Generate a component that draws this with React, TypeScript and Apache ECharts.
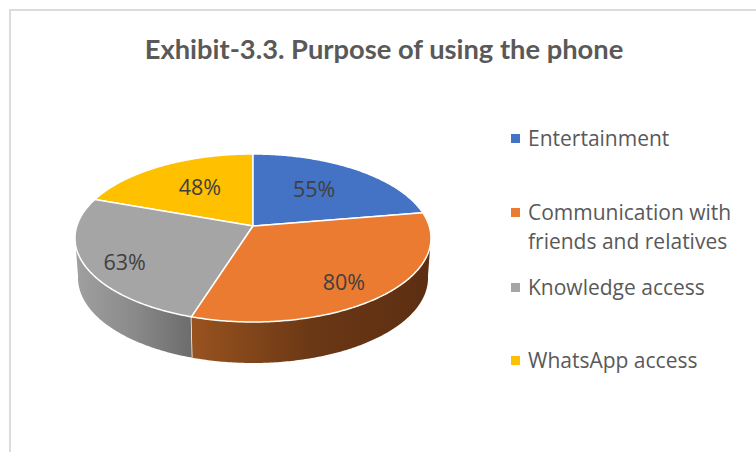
import React, { useEffect, useRef } from "react";
import * as echarts from "echarts";

const titleText = "Exhibit-3.3. Purpose of using the phone";
const categories = ["Entertainment", "Communication with\nfriends and relatives", "Knowledge access", "WhatsApp access"];
const values = [55, 80, 63, 48];
const topColors = ["#4472C4", "#EB7B30", "#A5A5A5", "#FFC000"];
const legendRows = [138, 212, 287, 360];
const labelRadius = [0.618, 0.778, 0.8, 0.614];
const labelAngleShift = [-3.3, 3.8, -4.6, 3.3];

const sideGradients: Record<number, [string, string, string]> = {
  1: ["#98531f", "#6b3815", "#5c2e12"],
  2: ["#a0a0a0", "#8a8a8a", "#6c6c6c"],
};

const CX = 253, CY = 238, RX = 178, RY = 84, APEX = 0.143;
const BOTTOM_CY = 278, BOTTOM_RX = 175, BOTTOM_RY = 85;
const total = values.reduce((a, b) => a + b, 0);

// perspective map of the unit disc onto the tilted top face
function disc(thetaDeg: number, r = 1) {
  const t = (thetaDeg * Math.PI) / 180;
  const u = r * Math.sin(t), v = r * Math.cos(t);
  const den = 1 + APEX * v;
  return [(u * Math.sqrt(1 - APEX * APEX)) / den, (v + APEX) / den];
}
function top(thetaDeg: number, r = 1) {
  const [u, v] = disc(thetaDeg, r);
  return [CX + RX * u, CY - RY * v];
}
function bottom(thetaDeg: number) {
  const [u, v] = disc(thetaDeg);
  return [CX + BOTTOM_RX * u, BOTTOM_CY - BOTTOM_RY * v];
}
function span(a: number, b: number) {
  const n = Math.max(2, Math.ceil((b - a) * 1.5));
  const out: number[] = [];
  for (let i = 0; i <= n; i++) out.push(a + ((b - a) * i) / n);
  return out;
}

function renderItem(_: any, api: any) {
  const i = api.value(0) as number;
  let start = 0;
  for (let k = 0; k < i; k++) start += values[k];
  const a0 = (start / total) * 360;
  const a1 = ((start + values[i]) / total) * 360;
  const mid = (a0 + a1) / 2 + labelAngleShift[i];
  const children: any[] = [];

  // visible outer wall: the front of the disc
  const wa = Math.max(a0, 97);
  const wb = Math.min(a1, 263);
  if (wb > wa && sideGradients[i]) {
    const angles = span(wa, wb);
    const pts = [...angles.map((t) => top(t)), ...angles.slice().reverse().map((t) => bottom(t))];
    const [c0, c1, c2] = sideGradients[i];
    children.push({
      type: "polygon",
      shape: { points: pts },
      style: {
        fill: new echarts.graphic.LinearGradient(0, 0, 1, 0, [
          { offset: 0, color: c0 },
          { offset: 0.5, color: c1 },
          { offset: 1, color: c2 },
        ]),
        stroke: "#ffffff",
        lineWidth: 0,
      },
    });
    if (a0 > 97 && a0 < 263) {
      children.push({
        type: "line",
        shape: { x1: top(a0)[0], y1: top(a0)[1], x2: bottom(a0)[0], y2: bottom(a0)[1] },
        style: { stroke: "#ffffff", lineWidth: 1.5 },
      });
    }
  }

  // top face
  const facePts = [top(0, 0), ...span(a0, a1).map((t) => top(t))];
  children.push({
    type: "polygon",
    shape: { points: facePts },
    style: { fill: topColors[i], stroke: "#ffffff", lineWidth: 1.5, lineJoin: "round" },
    z2: 10,
  });

  const [lx, ly] = top(mid, labelRadius[i]);
  children.push({
    type: "text",
    x: lx,
    y: ly,
    style: {
      text: `${values[i]}%`,
      fill: "#404040",
      font: "21.5px 'Open Sans'",
      align: "center",
      verticalAlign: "middle",
    },
    z2: 20,
  });
  return { type: "group", children };
}

export default function App() {
  const ref = useRef<HTMLDivElement>(null);
  useEffect(() => {
    const chart = echarts.init(ref.current!, undefined, { renderer: "svg" });
    const legendGraphics: any[] = [];
    categories.forEach((name, i) => {
      legendGraphics.push({
        type: "rect",
        shape: { x: 511, y: legendRows[i] - 4, width: 9, height: 9 },
        style: { fill: topColors[i] },
      });
      legendGraphics.push({
        type: "text",
        x: 528,
        y: legendRows[i] - 15,
        style: {
          text: name,
          fill: "#595959",
          font: "21px 'Open Sans'",
          lineHeight: 29,
          align: "left",
          verticalAlign: "top",
        },
      });
    });
    chart.setOption({
      animation: false,
      backgroundColor: "#ffffff",
      title: {
        text: titleText,
        left: 379,
        textAlign: "center",
        top: 30,
        textStyle: { fontFamily: "Lato", fontWeight: "bold", fontSize: 27.3, color: "#595959" },
      },
      graphic: [
        { type: "line", shape: { x1: 9, y1: 10, x2: 756, y2: 10 }, style: { stroke: "#dcdcdc", lineWidth: 2 } },
        { type: "line", shape: { x1: 10, y1: 9, x2: 10, y2: 452 }, style: { stroke: "#dcdcdc", lineWidth: 2 } },
        ...legendGraphics,
      ],
      series: [
        {
          type: "custom",
          coordinateSystem: "none",
          silent: true,
          clip: false,
          renderItem,
          // the rear slices paint first, so the front walls are not covered
          data: [3, 0, 2, 1].map((i) => [i]),
        },
      ],
    });
    return () => chart.dispose();
  }, []);
  return <div ref={ref} style={{ position: "absolute", left: 0, top: 0, width: 756, height: 452 }} />;
}
